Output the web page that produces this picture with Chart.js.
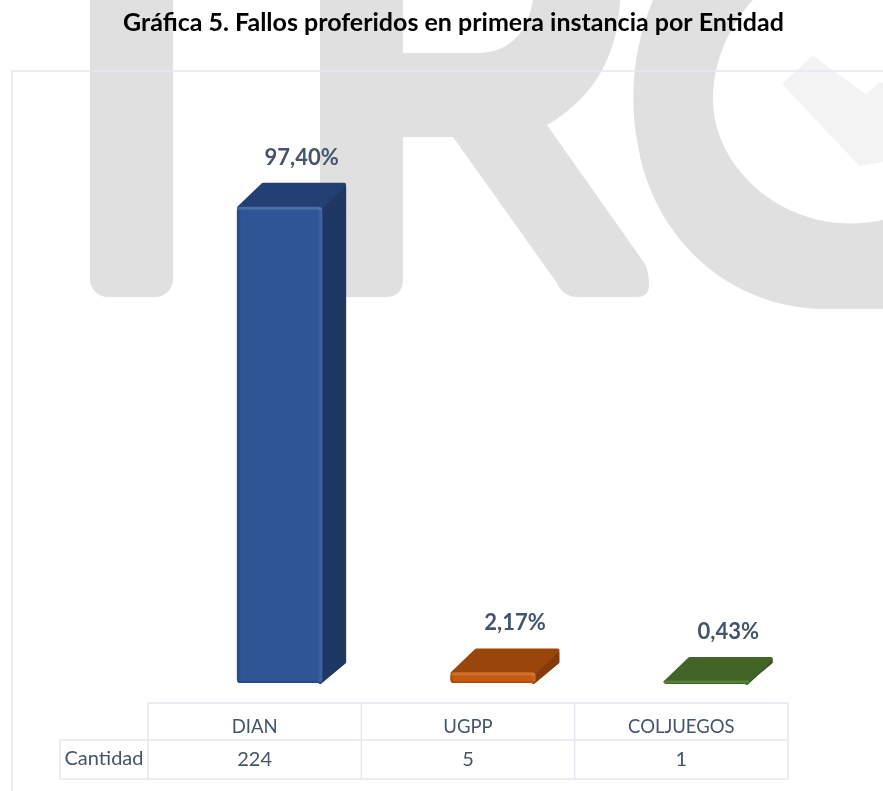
<!DOCTYPE html>
<html>
<head>
<meta charset="utf-8">
<script src="https://cdn.jsdelivr.net/npm/chart.js@4/dist/chart.umd.min.js"></script>
<style>
  html, body { margin: 0; padding: 0; background: #fff; }
  #wrap { width: 883px; height: 791px; }
</style>
</head>
<body>
<div id="wrap"><canvas id="myChart" width="883" height="791"></canvas></div>
<script>
const categories = ["DIAN", "UGPP", "COLJUEGOS"];
const percentages = [97.40, 2.17, 0.43];
const quantities = [224, 5, 1];
const rowLabel = "Cantidad";
const chartTitle = "Gráfica 5. Fallos proferidos en primera instancia por Entidad";

const frontColors = ["#2f5597", "#c55a11", "#548235"];
const topColors = ["#233f74", "#9a4509", "#426427"];
const sideColors = ["#1f3763", "#843c0c", "#375623"];
const textColor = "#44546a";
const lineColor = "#e3e9f0";
const depth = 24;
const fontName = "Lato, 'Noto Sans', sans-serif";

function polygon(ctx, points, color, lineWidth) {
  ctx.fillStyle = color;
  ctx.strokeStyle = color;
  ctx.lineJoin = "round";
  ctx.lineWidth = lineWidth || 0.01;
  ctx.beginPath();
  points.forEach(function (p, i) {
    if (i === 0) ctx.moveTo(p[0], p[1]);
    else ctx.lineTo(p[0], p[1]);
  });
  ctx.closePath();
  ctx.fill();
  ctx.stroke();
}

// grey logo behind the chart
const watermark = {
  id: "watermark",
  beforeDraw: function (chart) {
    const ctx = chart.ctx;
    ctx.save();
    ctx.fillStyle = "#fff";
    ctx.fillRect(0, 0, chart.width, chart.height);
    ctx.fillStyle = "#e0e0e0";

    // I
    ctx.beginPath();
    ctx.roundRect(90, -30, 83, 327, 18);
    ctx.fill();

    // R
    ctx.beginPath();
    ctx.moveTo(320, 0);
    ctx.lineTo(320, 279);
    ctx.quadraticCurveTo(320, 297, 338, 297);
    ctx.lineTo(385, 297);
    ctx.quadraticCurveTo(403, 297, 403, 279);
    ctx.lineTo(403, 137);
    ctx.lineTo(453, 137);
    ctx.lineTo(557, 283);
    ctx.quadraticCurveTo(563, 297, 578, 297);
    ctx.lineTo(637, 297);
    ctx.quadraticCurveTo(649, 297, 649, 285);
    ctx.quadraticCurveTo(649, 272, 645, 264);
    ctx.lineTo(547, 125);
    ctx.bezierCurveTo(590, 100, 618, 60, 620, 0);
    ctx.lineTo(533, 0);
    ctx.quadraticCurveTo(525, 50, 480, 53);
    ctx.lineTo(403, 53);
    ctx.lineTo(403, 0);
    ctx.closePath();
    ctx.fill();

    // C
    ctx.beginPath();
    ctx.moveTo(653, 0);
    ctx.bezierCurveTo(632, 50, 630, 100, 637, 140);
    ctx.bezierCurveTo(650, 230, 720, 305, 820, 309);
    ctx.lineTo(883, 309);
    ctx.lineTo(883, 220);
    ctx.bezierCurveTo(790, 240, 713, 170, 713, 100);
    ctx.bezierCurveTo(713, 60, 730, 25, 753, 0);
    ctx.closePath();
    ctx.fill();

    // check mark
    polygon(ctx, [[785, 84], [813, 58], [866, 97], [881, 84], [881, 160], [860, 164]], "#f3f3f3", 4);
    ctx.restore();
  },
};

// top and side faces of the bars, value labels, table
const bars3d = {
  id: "bars3d",
  beforeDatasetsDraw: function (chart) {
    const ctx = chart.ctx;
    ctx.save();
    chart.getDatasetMeta(0).data.forEach(function (bar, i) {
      const left = bar.x - bar.width / 2;
      const right = bar.x + bar.width / 2;
      polygon(ctx, [[right - 2, bar.y + 2], [right + depth - 2, bar.y - depth + 4], [right + depth - 2, bar.base - depth + 3], [right - 2, bar.base - 1]], sideColors[i], 4);
      polygon(ctx, [[left + 2, bar.y + 1], [left + depth + 2, bar.y - depth + 2], [right + depth - 2, bar.y - depth + 2], [right - 2, bar.y + 1]], topColors[i], 4);
    });
    ctx.restore();
  },
  afterDatasetsDraw: function (chart) {
    const ctx = chart.ctx;
    ctx.save();
    chart.getDatasetMeta(0).data.forEach(function (bar) {
      // soft bevel on the front face
      const left = bar.x - bar.width / 2;
      const right = bar.x + bar.width / 2;
      const height = bar.base - bar.y;
      if (height < 4) return;
      ctx.save();
      ctx.beginPath();
      ctx.roundRect(left, bar.y, bar.width, height, 4);
      ctx.clip();
      const shade = ctx.createLinearGradient(left, 0, right, 0);
      shade.addColorStop(0, "rgba(0,0,0,0.16)");
      shade.addColorStop(0.05, "rgba(0,0,0,0)");
      shade.addColorStop(0.94, "rgba(255,255,255,0)");
      shade.addColorStop(1, "rgba(255,255,255,0.1)");
      ctx.fillStyle = shade;
      ctx.fillRect(left, bar.y, bar.width, height);
      ctx.fillStyle = "rgba(255,255,255,0.14)";
      ctx.fillRect(left, bar.y, bar.width, 3);
      ctx.fillStyle = "rgba(0,0,0,0.12)";
      ctx.fillRect(left, bar.base - 2, bar.width, 2);
      ctx.restore();
    });

    ctx.fillStyle = textColor;
    ctx.textAlign = "center";
    ctx.textBaseline = "middle";
    ctx.font = "bold 22px " + fontName;
    chart.getDatasetMeta(0).data.forEach(function (bar, i) {
      const label = percentages[i].toFixed(2).replace(".", ",") + "%";
      ctx.fillText(label, bar.x + 22, bar.y - depth - 25);
    });
    ctx.restore();
  },
  afterDraw: function (chart) {
    const ctx = chart.ctx;
    const x = chart.scales.x;
    const tableLeft = x.left - 25;
    const tableRight = x.right - 25;
    const col = (tableRight - tableLeft) / categories.length;
    ctx.save();
    ctx.strokeStyle = lineColor;
    ctx.lineWidth = 1.5;
    ctx.beginPath();
    // outer frame
    ctx.moveTo(12, 791);
    ctx.lineTo(12, 71);
    ctx.lineTo(883, 71);
    // table grid
    ctx.moveTo(tableLeft, 703);
    ctx.lineTo(tableRight, 703);
    ctx.moveTo(60, 740);
    ctx.lineTo(tableRight, 740);
    ctx.moveTo(60, 779);
    ctx.lineTo(tableRight, 779);
    ctx.moveTo(60, 740);
    ctx.lineTo(60, 779);
    for (let i = 0; i <= categories.length; i++) {
      ctx.moveTo(tableLeft + col * i, 703);
      ctx.lineTo(tableLeft + col * i, 779);
    }
    ctx.stroke();

    ctx.fillStyle = textColor;
    ctx.textBaseline = "middle";
    ctx.font = "20px " + fontName;
    ctx.textAlign = "center";
    quantities.forEach(function (q, i) {
      ctx.fillText(String(q), x.getPixelForValue(i) - 25, 760);
    });
    ctx.fillText(rowLabel, 104, 759);
    ctx.restore();
  },
};

var myChart = new Chart(document.getElementById("myChart").getContext("2d"), {
  type: "bar",
  data: {
    labels: categories,
    datasets: [{
      data: percentages,
      backgroundColor: frontColors,
      barThickness: 85,
      borderRadius: 4,
      borderSkipped: false,
    }],
  },
  plugins: [watermark, bars3d],
  options: {
    responsive: false,
    animation: false,
    layout: { padding: { left: 94, right: 70, top: 0, bottom: 28 } },
    plugins: {
      legend: { display: false },
      tooltip: { enabled: false },
      title: {
        display: true,
        text: chartTitle,
        color: "#000",
        font: { family: fontName, size: 25, weight: "bold" },
        padding: { top: 8, bottom: 156 },
      },
    },
    scales: {
      x: {
        grid: { display: false, drawTicks: false },
        border: { display: false },
        afterFit: function (scale) { scale.height = 80; },
        ticks: {
          color: textColor,
          font: { family: fontName, size: 18.5 },
          labelOffset: -25,
          padding: 33,
          maxRotation: 0,
          autoSkip: false,
        },
      },
      y: {
        min: 0,
        max: 100,
        grid: { display: false, drawTicks: false },
        border: { display: false },
        ticks: { display: false },
        afterFit: function (scale) { scale.width = 79; },
      },
    },
  },
});
</script>
</body>
</html>
